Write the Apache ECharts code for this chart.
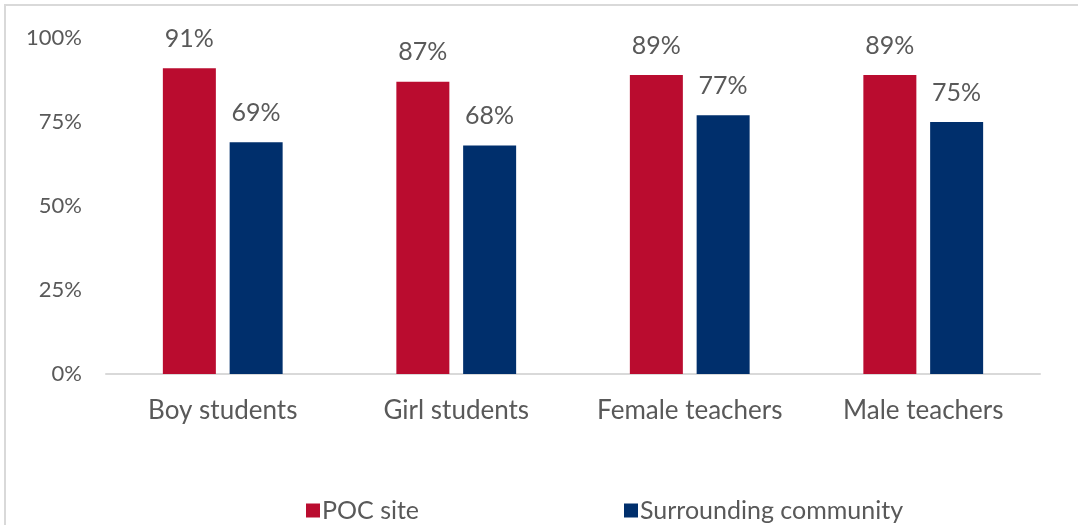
<!DOCTYPE html>
<html>
<head>
<meta charset="utf-8">
<script src="https://cdn.jsdelivr.net/npm/echarts@6/dist/echarts.min.js"></script>
<style>
html,body{margin:0;padding:0;background:#fff;}
#frame{position:absolute;left:4px;top:4px;width:1080px;height:530px;border-left:2px solid #d9d9d9;border-top:2px solid #d9d9d9;}
#c{position:absolute;left:0;top:0;width:1078px;height:525px;}
</style>
</head>
<body>
<div id="frame"></div>
<div id="c"></div>
<script>
const categories = ['Boy students', 'Girl students', 'Female teachers', 'Male teachers'];
const pocSite = [91, 87, 89, 89];
const surrounding = [69, 68, 77, 75];
const yTicks = [0, 25, 50, 75, 100];

const FONT = 'Lato';
const TXT = '#595959';
const chart = echarts.init(document.getElementById('c'));
chart.setOption({
  animation: false,
  textStyle: {fontFamily: FONT},
  grid: {left: 106, right: 38, top: 38, bottom: 151},
  legend: [
    {left: 301, top: 493, itemWidth: 14, itemHeight: 14,
     icon: 'rect', data: ['POC site'],
     textStyle: {fontFamily: FONT, fontSize: 25, color: TXT, padding: [0, 0, 0, -3]}},
    {left: 619, top: 493, itemWidth: 14, itemHeight: 14,
     icon: 'rect', data: ['Surrounding community'],
     textStyle: {fontFamily: FONT, fontSize: 25, color: TXT, padding: [0, 0, 0, -3]}}
  ],
  xAxis: {
    type: 'category', data: categories,
    axisLine: {lineStyle: {color: '#d9d9d9', width: 2}},
    axisTick: {show: false},
    axisLabel: {fontFamily: FONT, fontSize: 26, color: TXT, margin: 24, interval: 0}
  },
  yAxis: {
    type: 'value', min: 0, max: 100, interval: 25,
    axisLine: {show: false}, axisTick: {show: false},
    splitLine: {show: false},
    axisLabel: {fontFamily: FONT, fontSize: 22, color: TXT, margin: 24,
      formatter: v => yTicks.includes(v) ? v + '%' : ''}
  },
  series: [
    {name: 'POC site', type: 'bar', data: pocSite, barWidth: 53, barGap: '26%',
     itemStyle: {color: '#ba0c2f'},
     label: {show: true, position: 'top', distance: 17, formatter: '{c}%',
       fontFamily: FONT, fontSize: 25, color: TXT}},
    {name: 'Surrounding community', type: 'bar', data: surrounding, barWidth: 53,
     itemStyle: {color: '#002f6c'},
     label: {show: true, position: 'top', distance: 17, formatter: '{c}%',
       fontFamily: FONT, fontSize: 25, color: TXT}}
  ]
});
</script>
</body>
</html>
